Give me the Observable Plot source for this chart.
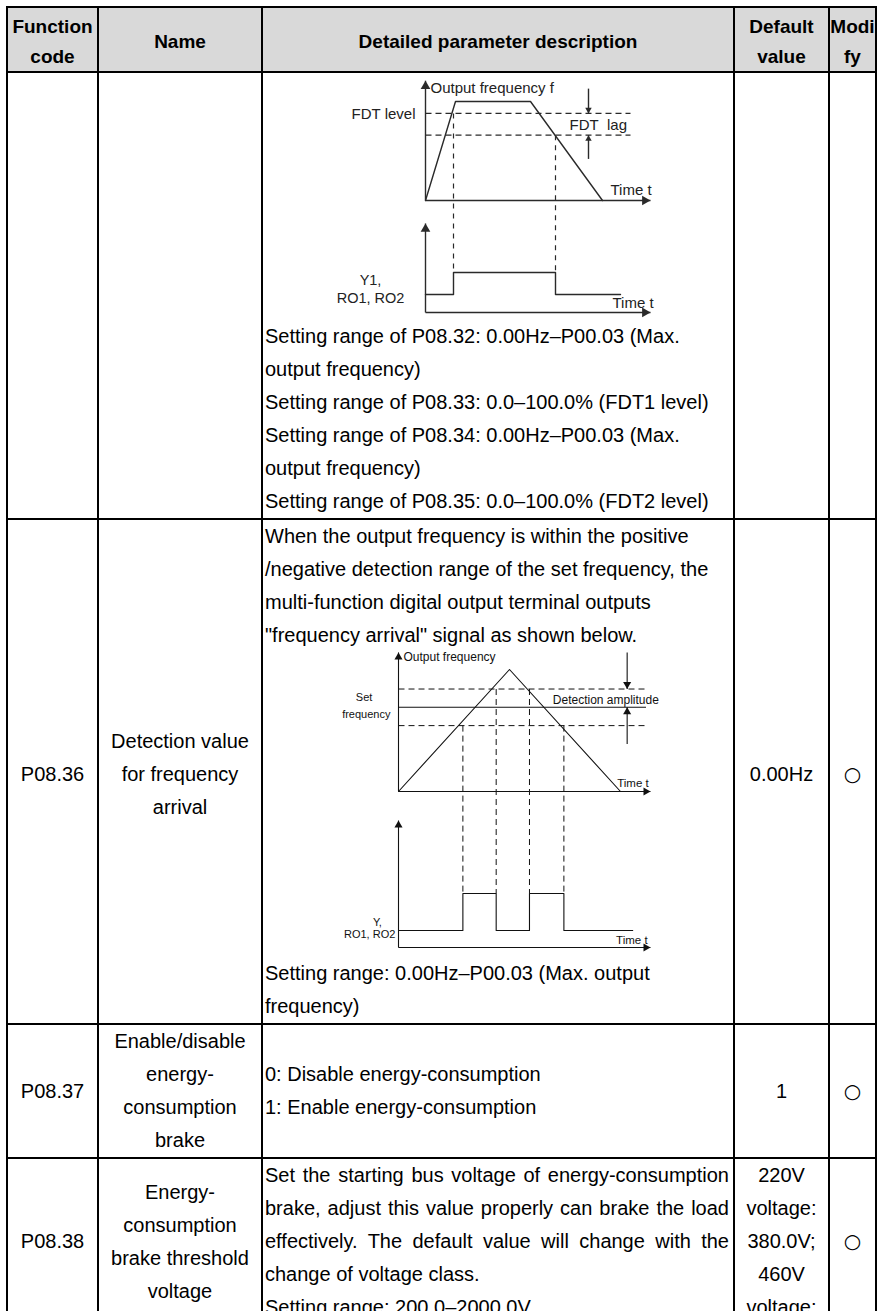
<!DOCTYPE html>
<html>
<head>
<meta charset="utf-8">
<script src="https://cdn.jsdelivr.net/npm/d3@7"></script>
<script src="https://cdn.jsdelivr.net/npm/@observablehq/plot@0.6"></script>
<style>
html,body{margin:0;padding:0;background:#fff;}
body{width:885px;height:1311px;overflow:hidden;position:relative;font-family:"Liberation Sans",Arial,sans-serif;color:#000;}
#sheet{position:absolute;left:6px;top:6px;display:grid;background:#000;padding:2px;gap:2px;
 grid-template-columns:89px 162px 470px 93px 45px;
 grid-template-rows:63px 445px 503px 132px 165px;}
#sheet>div{background:#fff;font-size:20px;line-height:33px;overflow:visible;}
#sheet>div.head{background:#d9d9d9;font-weight:bold;font-size:19px;line-height:30px;padding-top:5px;box-sizing:border-box;}
.center{display:flex;flex-direction:column;align-items:center;justify-content:center;text-align:center;}
.desc .line{padding:0 4px 0 2px;white-space:nowrap;}
.desc.middle{display:flex;flex-direction:column;justify-content:center;}
.desc .just{text-align:justify;text-align-last:justify;white-space:normal;}
.desc svg{display:block;}
.mark{font-family:"DejaVu Sans",sans-serif;font-size:17px;}
.namecell{padding-top:6px;box-sizing:border-box;}
</style>
</head>
<body>
<div id="sheet"></div>
<script>
// ---------------- table content ----------------
const headerLabels = [["Function","code"],["Name"],["Detailed parameter description"],["Default","value"],["Modi","fy"]];
const functionCodes = ["", "P08.36", "P08.37", "P08.38"];
const parameterNames = [[], ["Detection value","for frequency","arrival"], ["Enable/disable","energy-","consumption","brake"], ["Energy-","consumption","brake threshold","voltage"]];
const defaultValues = [[], ["0.00Hz"], ["1"], ["220V","voltage:","380.0V;","460V","voltage:"]];
const modifyMarks = ["", "○", "○", "○"];
const fdtRangeText = [
  "Setting range of P08.32: 0.00Hz–P00.03 (Max.",
  "output frequency)",
  "Setting range of P08.33: 0.0–100.0% (FDT1 level)",
  "Setting range of P08.34: 0.00Hz–P00.03 (Max.",
  "output frequency)",
  "Setting range of P08.35: 0.0–100.0% (FDT2 level)"
];
const arrivalIntroText = [
  "When the output frequency is within the positive",
  "/negative detection range of the set frequency, the",
  "multi-function digital output terminal outputs",
  "\"frequency arrival\" signal as shown below."
];
const arrivalRangeText = ["Setting range: 0.00Hz–P00.03 (Max. output", "frequency)"];
const brakeEnableText = ["0: Disable energy-consumption", "1: Enable energy-consumption"];
const brakeVoltageText = [
  "Set the starting bus voltage of energy-consumption",
  "brake, adjust this value properly can brake the load",
  "effectively. The default value will change with the",
  "change of voltage class.",
  "Setting range: 200.0–2000.0V"
];
const brakeVoltageJustified = [true, true, true, false, false];

// ---------------- FDT diagram values (time units, frequency %) ----------------
const fdtTimes = [0, 3.0, 10.5, 17.7];
const fdtFreq = [0, 100, 100, 0];
const fdtLevel = 88;
const fdtLagLevel = 66;
const fdtSwitchTimes = [2.8, 13.0];
const fdtSignalTimes = [0, 2.8, 13.0, 19.5];
const fdtSignalLevels = [0, 1, 0, 0];

// ---------------- frequency-arrival diagram values ----------------
const arrivalTimes = [0, 10, 20];
const arrivalFreq = [0, 100, 0];
const setFrequency = 69;
const detectUpper = 84;
const detectLower = 54;
const arrivalSwitchTimes = [5.8, 8.8, 11.8, 14.9];
const arrivalSwitchFrom = [54, 84, 84, 54];
const arrivalSignalTimes = [0, 5.8, 8.8, 11.8, 14.9, 21.1];
const arrivalSignalLevels = [0, 1, 0, 1, 0, 0];

// ---------------- helpers ----------------
function arrowHead(data, dir, r, fill) {
  const size = Math.PI * r * r;
  const tip = 2 * Math.sqrt(size / (3 * Math.sqrt(3)));
  const o = {x: "t", y: "f", symbol: "triangle", r, fill, stroke: "none"};
  if (dir === "up") o.dy = tip;
  if (dir === "down") { o.dy = -tip; o.rotate = 180; }
  if (dir === "right") { o.dx = -tip; o.rotate = 90; }
  return Plot.dot(data, o);
}
const seg = (t1, f1, t2, f2) => ({t1, f1, t2, f2});
const linkOpts = (extra) => Object.assign({x1: "t1", y1: "f1", x2: "t2", y2: "f2"}, extra);
const svgStyle = {fontFamily: "'Liberation Sans', Arial, sans-serif", background: "transparent", overflow: "visible", maxWidth: "none"};

function fdtDiagram() {
  const ink = "#2a2a2a";
  const sigBase = -113.1, sigLow = -94.9, sigHigh = -72.7, sigTop = -23.2;
  const freqTop = 121, axisEnd = 22.5, levelEnd = 20.5, lagT = 16.3;
  const sig = v => sigLow + v * (sigHigh - sigLow);
  const curve = fdtTimes.map((t, i) => ({t, f: fdtFreq[i]}));
  const signal = fdtSignalTimes.map((t, i) => ({t, f: sig(fdtSignalLevels[i])}));
  const solid = [
    seg(0, 0, 0, freqTop), seg(0, 0, axisEnd, 0),
    seg(0, sigBase, 0, sigTop), seg(0, sigBase, axisEnd, sigBase),
    seg(lagT, 113, lagT, fdtLevel), seg(lagT, fdtLagLevel, lagT, 42)
  ];
  const levels = [fdtLevel, fdtLagLevel].map(f => seg(0, f, levelEnd, f));
  const drops = fdtSwitchTimes.map((t, i) => seg(t, [fdtLevel, fdtLagLevel][i], t, sigHigh));
  const labels = [
    {t: 0.5, f: 113, text: "Output frequency f", anchor: "start"},
    {t: -1.0, f: 87, text: "FDT level", anchor: "end"},
    {t: 14.4, f: 76, text: "FDT\u00a0 lag", anchor: "start"},
    {t: 18.5, f: 10, text: "Time t", anchor: "start"}
  ];
  const sigLabels = [
    {t: -5.5, f: -80.8, text: "Y1,", anchor: "middle"},
    {t: -5.5, f: -99, text: "RO1, RO2", anchor: "middle"},
    {t: 18.7, f: -104, text: "Time t", anchor: "start"}
  ];
  return Plot.plot({
    width: 470, height: 247, margin: 0,
    x: {type: "linear", domain: [0, 10], range: [162, 262], axis: null},
    y: {type: "linear", domain: [0, 100], range: [127, 28], axis: null},
    style: svgStyle,
    marks: [
      Plot.link(levels, linkOpts({stroke: ink, strokeWidth: 1.2, strokeDasharray: "6,4"})),
      Plot.link(drops, linkOpts({stroke: ink, strokeWidth: 1.2, strokeDasharray: "5,5"})),
      Plot.link(solid, linkOpts({stroke: ink, strokeWidth: 1.4})),
      Plot.line(curve, {x: "t", y: "f", stroke: ink, strokeWidth: 1.4}),
      Plot.line(signal, {x: "t", y: "f", stroke: ink, strokeWidth: 1.4, curve: "step-after"}),
      arrowHead([{t: 0, f: freqTop}, {t: 0, f: sigTop}], "up", 3.6, ink),
      arrowHead([{t: axisEnd, f: 0}, {t: axisEnd, f: sigBase}], "right", 3.6, ink),
      arrowHead([{t: lagT, f: fdtLevel}], "down", 2.4, ink),
      arrowHead([{t: lagT, f: fdtLagLevel}], "up", 2.4, ink),
      Plot.text(labels, {x: "t", y: "f", text: "text", textAnchor: "start", fontSize: 15, fill: "#222", filter: d => d.anchor === "start"}),
      Plot.text(labels, {x: "t", y: "f", text: "text", textAnchor: "end", fontSize: 15, fill: "#222", filter: d => d.anchor === "end"}),
      Plot.text(sigLabels, {x: "t", y: "f", text: "text", textAnchor: "middle", fontSize: 14.5, fill: "#222", filter: d => d.anchor === "middle"}),
      Plot.text(sigLabels, {x: "t", y: "f", text: "text", textAnchor: "start", fontSize: 15, fill: "#222", filter: d => d.anchor === "start"})
    ]
  });
}

function arrivalDiagram() {
  const ink = "#111";
  const sigBase = -127.9, sigLow = -113.9, sigHigh = -83.6, sigTop = -23.8;
  const freqTop = 114, axisEnd = 22.7, levelEnd = 22.3, ampT = 20.6;
  const sig = v => sigLow + v * (sigHigh - sigLow);
  const curve = arrivalTimes.map((t, i) => ({t, f: arrivalFreq[i]}));
  const signal = arrivalSignalTimes.map((t, i) => ({t, f: sig(arrivalSignalLevels[i])}));
  const solid = [
    seg(0, 0, 0, freqTop), seg(0, 0, axisEnd, 0),
    seg(0, sigBase, 0, sigTop), seg(0, sigBase, axisEnd, sigBase),
    seg(0, setFrequency, levelEnd, setFrequency),
    seg(ampT, freqTop, ampT, detectUpper), seg(ampT, setFrequency, ampT, 39)
  ];
  const levels = [detectUpper, detectLower].map(f => seg(0, f, levelEnd, f));
  const drops = arrivalSwitchTimes.map((t, i) => seg(t, arrivalSwitchFrom[i], t, sigHigh));
  const labels = [
    {t: 0.45, f: 110.5, text: "Output frequency", size: 12},
    {t: 13.9, f: 74.6, text: "Detection amplitude", size: 12},
    {t: 19.7, f: 6.6, text: "Time t", size: 11.5},
    {t: 19.6, f: -122, text: "Time t", size: 11.5}
  ];
  const midLabels = [
    {t: -3.1, f: 77, text: "Set"},
    {t: -2.9, f: 63, text: "frequency"},
    {t: -1.9, f: -107.4, text: "Y,"},
    {t: -2.6, f: -117.2, text: "RO1, RO2"}
  ];
  return Plot.plot({
    width: 470, height: 305, margin: 0,
    x: {type: "linear", domain: [0, 10], range: [135, 246], axis: null},
    y: {type: "linear", domain: [0, 100], range: [139, 17], axis: null},
    style: svgStyle,
    marks: [
      Plot.link(levels, linkOpts({stroke: ink, strokeWidth: 1, strokeDasharray: "6,4"})),
      Plot.link(drops, linkOpts({stroke: ink, strokeWidth: 1, strokeDasharray: "6,4"})),
      Plot.link(solid, linkOpts({stroke: ink, strokeWidth: 1.1})),
      Plot.line(curve, {x: "t", y: "f", stroke: ink, strokeWidth: 1.1}),
      Plot.line(signal, {x: "t", y: "f", stroke: ink, strokeWidth: 1.1, curve: "step-after"}),
      arrowHead([{t: 0, f: freqTop}, {t: 0, f: sigTop}], "up", 3, ink),
      arrowHead([{t: axisEnd, f: 0}, {t: axisEnd, f: sigBase}], "right", 3, ink),
      arrowHead([{t: ampT, f: detectUpper}], "down", 3, ink),
      arrowHead([{t: ampT, f: setFrequency}], "up", 3, ink),
      Plot.text(labels, {x: "t", y: "f", text: "text", textAnchor: "start", fontSize: d => d.size, fill: "#111"}),
      Plot.text(midLabels, {x: "t", y: "f", text: "text", textAnchor: "middle", fontSize: 11, fill: "#111"})
    ]
  });
}

// ---------------- build the table ----------------
const sheet = document.getElementById("sheet");
function makeLines(arr, cls = "line") {
  return arr.map(t => { const e = document.createElement("div"); e.className = cls; e.textContent = t; return e; });
}
function addCell(cls, children) {
  const d = document.createElement("div");
  d.className = cls;
  children.forEach(c => d.appendChild(c));
  sheet.appendChild(d);
  return d;
}
headerLabels.forEach(l => addCell("head center", makeLines(l)));

for (let i = 0; i < functionCodes.length; i++) {
  const shift = i === 1 ? " namecell" : "";
  addCell("center" + shift, makeLines(functionCodes[i] ? [functionCodes[i]] : []));
  addCell("center" + shift, makeLines(parameterNames[i]));
  if (i === 0) addCell("desc", [fdtDiagram(), ...makeLines(fdtRangeText)]);
  if (i === 1) addCell("desc", [...makeLines(arrivalIntroText), arrivalDiagram(), ...makeLines(arrivalRangeText)]);
  if (i === 2) addCell("desc middle", makeLines(brakeEnableText));
  if (i === 3) addCell("desc", brakeVoltageText.map((t, k) => makeLines([t], brakeVoltageJustified[k] ? "line just" : "line")[0]));
  addCell("center" + shift, makeLines(defaultValues[i]));
  addCell("center mark" + shift, makeLines(modifyMarks[i] ? [modifyMarks[i]] : []));
}
</script>
</body>
</html>
